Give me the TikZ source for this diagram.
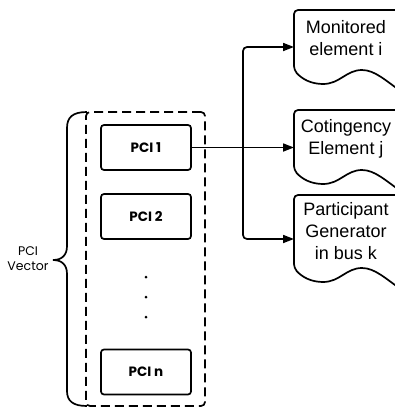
\documentclass[tikz,border=0pt]{standalone}
\usepackage{fontspec}
\setmainfont{Liberation Sans}
\newfontfamily\pcifont{Poppins}
\usetikzlibrary{arrows.meta}

% outline of a document shape: top edge y = #1, wavy bottom starting at y = #2
\newcommand\docoutline[2]{%
  \draw[docline] (410,#1) [rounded corners=4pt] -- (294,#1) -- (294,#2) [sharp corners]
    .. controls (302,{#2+9}) and (311,{#2+14}) .. (323,{#2+14})
    .. controls (340,{#2+14}) and (346,#2) .. (362,#2)
    .. controls (375,#2) and (386,{#2+11}) .. (402,{#2+22}) -- (410,{#2+22});%
}

\begin{document}
\begin{tikzpicture}[x=1pt,y=-1pt,
  line width=1.7pt,
  pcibox/.style={draw, rounded corners=3pt, minimum width=90pt, minimum height=45pt,
    font=\pcifont\bfseries\fontsize{13.5}{16}\selectfont},
  vecbox/.style={draw, dash pattern=on 9pt off 5pt, rounded corners=4pt,
    minimum width=119pt, minimum height=294pt},
  dotmark/.style={circle, fill, inner sep=0pt, minimum size=3pt},
  doctext/.style={align=center, font=\fontsize{18}{22}\selectfont},
  vectext/.style={align=center, font=\pcifont\fontsize{12.5}{15}\selectfont},
  docline/.style={line width=1.7pt},
  conn/.style={line width=1.7pt, rounded corners=4pt, -{Triangle[length=11pt,width=8pt]}},
]
\useasboundingbox (0,0) rectangle (395,408);
\clip (0,0) rectangle (395,408);

% dashed container holding the PCI entries
\node[vecbox] (vec) at (145.5,259) {};

\node[pcibox] (pci1) at (146,147.5) {PCI 1};
\node[pcibox] (pci2) at (146,216.5) {PCI 2};
\node[pcibox] (pcin) at (146,372) {PCI n};

\node[dotmark] (d1) at (146,277) {};
\node[dotmark] (d2) at (146,297) {};
\node[dotmark] (d3) at (146,317) {};

% curly brace and its label
\draw (87,112) .. controls (73,112) and (67,117) .. (67,128) -- (67,246)
  .. controls (67,255) and (62,260) .. (53,260)
  .. controls (62,260) and (67,265) .. (67,274) -- (67,391)
  .. controls (67,401) and (73,406) .. (87,406);
\node[vectext] (lbl) at (28,258.5) {PCI\\Vector};

% document shapes on the right
\docoutline{10}{70}
\docoutline{110}{170}
\docoutline{195}{268}
\node[doctext] (mon) at (346,38.5) {Monitored\\element i};
\node[doctext] (cot) at (346,139) {Cotingency\\Element j};
\node[doctext] (par) at (346,231) {Participant\\Generator\\in bus k};

\coordinate (jn) at (243,147.5);
\coordinate (mon-in) at (294,47);
\coordinate (cot-in) at (294,147.5);
\coordinate (par-in) at (294,239);

% connectors from PCI 1
\draw (pci1.east) -- (jn);
\draw[conn] (jn) |- (mon-in);
\draw[conn] (jn) -- (cot-in);
\draw[conn] (jn) |- (par-in);
\end{tikzpicture}
\end{document}
